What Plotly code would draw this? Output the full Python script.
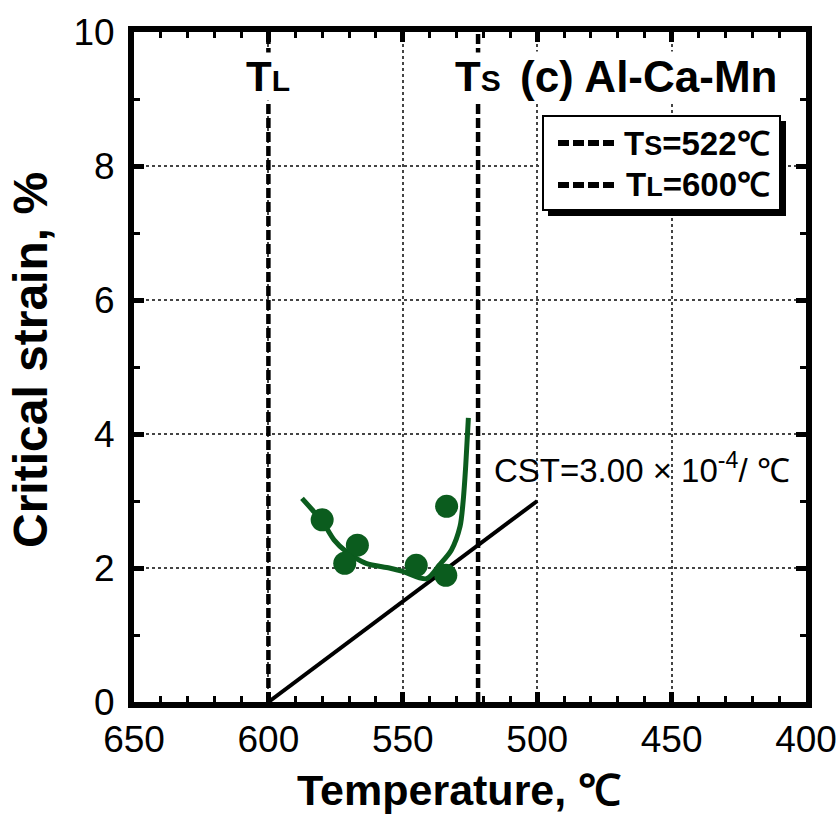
import plotly.graph_objects as go

# Solidus / liquidus temperatures (°C)
T_S = 522
T_L = 600
# critical strain-temperature slope (strain per °C)
CST = 3.00e-4

# measured critical strains (%)
meas_temp = [580.0, 566.9, 571.6, 545.0, 534.0, 533.7]
meas_strain = [2.72, 2.34, 2.07, 2.04, 1.89, 2.92]

# smoothed trend through the measurements
fit_temp = [587.5, 583.7, 580.0, 575.6, 571.2, 563.7, 555.0, 550.0, 541.2,
            536.3, 531.9, 528.7, 527.5, 526.6, 525.6]
fit_strain = [3.04, 2.87, 2.70, 2.42, 2.25, 2.07, 2.00, 1.95, 1.84,
              2.05, 2.27, 2.62, 3.02, 3.52, 4.24]

# CST reference line from T_L down to 500 °C
cst_temp = [T_L, 500]
cst_strain = [CST * (T_L - t) * 100 for t in cst_temp]

x_ticks = [650, 600, 550, 500, 450, 400]
y_ticks = [0, 2, 4, 6, 8, 10]

GREEN = "#0b5c1e"
FONT = "Liberation Sans, Arial, sans-serif"

L, R, T, B = 134, 32, 32, 120
W, H = 838, 822

fig = go.Figure()

# solidus / liquidus markers
for t in (T_S, T_L):
    fig.add_trace(go.Scatter(x=[t, t], y=[0, 10], mode="lines",
                             line=dict(color="black", width=4.5, dash="10px,4px"),
                             showlegend=False, hoverinfo="skip"))

fig.add_trace(go.Scatter(x=cst_temp, y=cst_strain, mode="lines",
                         line=dict(color="black", width=4),
                         showlegend=False))

fig.add_trace(go.Scatter(x=fit_temp, y=fit_strain, mode="lines",
                         line=dict(color=GREEN, width=5, shape="spline", smoothing=0.8),
                         showlegend=False))

fig.add_trace(go.Scatter(x=meas_temp, y=meas_strain, mode="markers",
                         marker=dict(color=GREEN, size=23),
                         showlegend=False))

axis_common = dict(
    showline=True, linecolor="black", linewidth=6, mirror="allticks",
    ticks="inside", ticklen=10, tickwidth=5, tickcolor="black",
    showgrid=True, gridcolor="#444", gridwidth=1.5,
    zeroline=False, ticklabeloverflow="allow", automargin=False,
)

fig.update_xaxes(
    range=[650, 400], tickvals=x_ticks,
    minor=dict(ticks="inside", dtick=10, ticklen=6, tickwidth=3, tickcolor="black",
               showgrid=False),
    griddash="dot",
    tickfont=dict(family=FONT, size=37, color="black"),
    **axis_common,
)
fig.update_yaxes(
    range=[0, 10], tickvals=y_ticks,
    minor=dict(ticks="inside", dtick=1, ticklen=6, tickwidth=3, tickcolor="black",
               showgrid=False),
    griddash="3px,3px",
    tickfont=dict(family=FONT, size=37, color="black"),
    ticklabelstandoff=6,
    **axis_common,
)

def px(x):
    return (x - L) / (W - L - R)

def py(y):
    return (H - B - y) / (H - B - T)

shapes = []
# legend shadow and frame
shapes.append(dict(type="rect", xref="paper", yref="paper",
                   x0=px(548), x1=px(786), y0=py(216), y1=py(121),
                   fillcolor="black", line=dict(width=0), layer="above"))
shapes.append(dict(type="rect", xref="paper", yref="paper",
                   x0=px(543), x1=px(780), y0=py(210), y1=py(116),
                   fillcolor="white", line=dict(color="black", width=2), layer="above"))
for row_y in (143, 185):
    shapes.append(dict(type="line", xref="paper", yref="paper",
                       x0=px(558), x1=px(614), y0=py(row_y), y1=py(row_y),
                       line=dict(color="black", width=6, dash="11px,4px"), layer="above"))

annotations = [
    # axis titles
    dict(x=px(459), y=py(790), xref="paper", yref="paper", xanchor="center", yanchor="middle",
         text="<b>Temperature, ℃</b>", showarrow=False,
         font=dict(family=FONT, size=43, color="black")),
    dict(x=px(31), y=py(360), xref="paper", yref="paper", xanchor="center", yanchor="middle",
         text="<b>Critical strain, %</b>", showarrow=False, textangle=-90,
         font=dict(family=FONT, size=48, color="black")),
    # legend entries
    dict(x=px(622), y=py(143), xref="paper", yref="paper", xanchor="left", yanchor="middle",
         text="<b>T<span style='font-size:27px'>S</span>=%d℃</b>" % T_S, showarrow=False,
         font=dict(family=FONT, size=33, color="black")),
    dict(x=px(624), y=py(185), xref="paper", yref="paper", xanchor="left", yanchor="middle",
         text="<b>T<span style='font-size:27px'>L</span>=%d℃</b>" % T_L, showarrow=False,
         font=dict(family=FONT, size=33, color="black")),
    # in-plot labels
    dict(x=T_L, y=py(76), xref="x", yref="paper", xanchor="center", yanchor="middle",
         text="<b>T<span style='font-size:30px'>L</span></b>", showarrow=False,
         bgcolor="white", borderpad=0,
         font=dict(family=FONT, size=42, color="black")),
    dict(x=T_S, y=py(76), xref="x", yref="paper", xanchor="center", yanchor="middle",
         text="<b>T<span style='font-size:30px'>S</span></b>", showarrow=False,
         bgcolor="white", borderpad=0,
         font=dict(family=FONT, size=42, color="black")),
    dict(x=px(519), y=py(76), xref="paper", yref="paper", xanchor="left", yanchor="middle",
         text="<b>(c) Al-Ca-Mn</b>", showarrow=False, bgcolor="white", borderpad=0,
         font=dict(family=FONT, size=44, color="black")),
    dict(x=px(492), y=py(468), xref="paper", yref="paper", xanchor="left", yanchor="middle",
         text="CST=3.00 × 10<sup>-4</sup>/ ℃", showarrow=False,
         font=dict(family=FONT, size=33, color="black")),
]

fig.update_layout(
    width=W, height=H,
    margin=dict(l=L, r=R, t=T, b=B),
    plot_bgcolor="white", paper_bgcolor="white",
    shapes=shapes, annotations=annotations,
    showlegend=False,
)

fig.write_html("out.html")
